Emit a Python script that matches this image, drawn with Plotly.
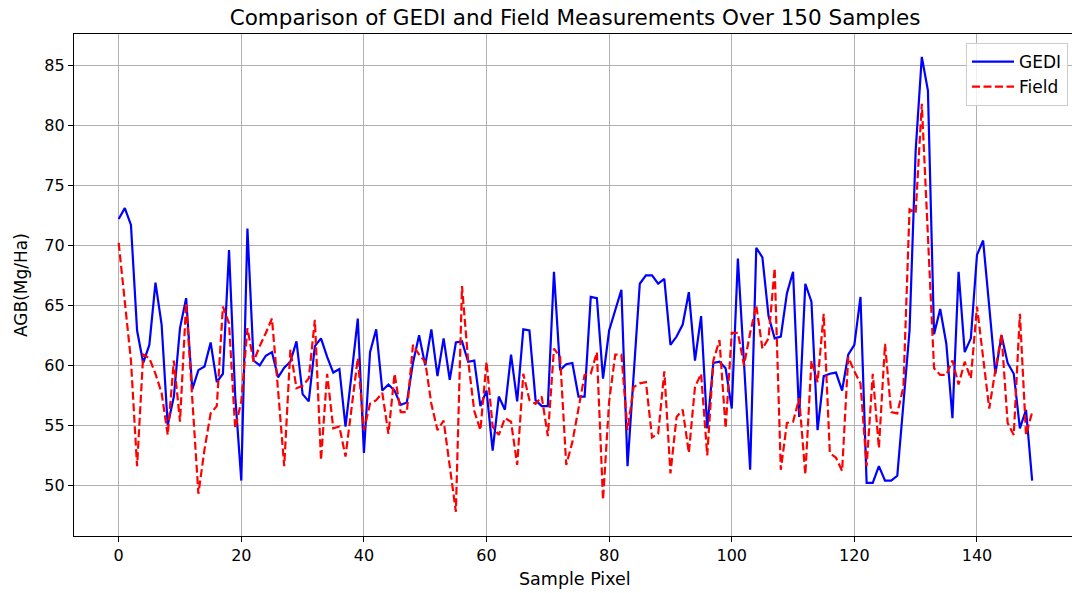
import plotly.graph_objects as go

samples = list(range(150))

gedi = [72.2, 73.1, 71.7, 62.9, 60.2, 61.7, 66.9, 63.4, 55.0, 57.4,
        63.1, 65.6, 58.0, 59.6, 59.9, 61.9, 58.6, 59.3, 69.6, 57.5,
        50.4, 71.4, 60.4, 60.0, 60.8, 61.1, 59.0, 59.8, 60.3, 62.0,
        57.6, 57.0, 61.6, 62.25, 60.7, 59.4, 59.7, 54.9, 59.3, 63.9,
        52.7, 61.1, 63.0, 57.9, 58.4, 57.9, 56.7, 56.9, 60.2, 62.5,
        60.0, 63.0, 59.1, 62.25, 58.8, 61.9, 62.0, 60.3, 60.4, 56.6,
        57.9, 52.9, 57.4, 56.3, 60.9, 57.0, 63.0, 62.9, 57.1, 56.6,
        56.6, 67.8, 59.6, 60.1, 60.2, 57.4, 57.4, 65.7, 65.6, 58.9,
        62.9, 64.6, 66.3, 51.6, 59.3, 66.8, 67.5, 67.5, 66.8, 67.2,
        61.7, 62.4, 63.4, 66.1, 60.4, 64.1, 54.75, 60.2, 60.3, 59.75,
        56.4, 68.9, 60.2, 51.3, 69.8, 69.0, 64.1, 62.25, 62.4, 66.0,
        67.8, 55.7, 66.8, 65.3, 54.6, 59.1, 59.3, 59.4, 57.9, 60.9,
        61.7, 65.7, 50.2, 50.2, 51.6, 50.4, 50.4, 50.8, 56.8, 62.9,
        77.9, 85.7, 82.9, 62.6, 64.7, 61.8, 55.6, 67.8, 61.1, 62.25,
        69.2, 70.4, 64.9, 59.3, 62.5, 60.2, 59.3, 54.75, 56.3, 50.4]

field = [70.2, 65.2, 60.4, 51.6, 60.9, 60.6, 59.3, 57.7, 54.2, 60.4,
         55.3, 65.2, 56.8, 49.3, 53.0, 56.0, 56.6, 64.9, 63.5, 54.75,
         57.0, 63.1, 60.3, 61.6, 62.7, 63.9, 57.9, 51.6, 61.3, 58.1,
         58.3, 58.9, 63.8, 52.1, 59.3, 54.75, 54.9, 52.4, 56.5, 60.6,
         54.6, 56.8, 57.1, 57.7, 54.3, 59.3, 56.1, 56.1, 61.7, 60.9,
         60.3, 56.8, 54.6, 55.4, 51.6, 47.8, 66.6, 60.4, 56.2, 54.6,
         60.3, 54.9, 54.2, 55.6, 55.3, 51.7, 59.3, 57.1, 56.8, 57.4,
         54.1, 61.4, 60.7, 51.7, 53.6, 56.3, 59.2, 59.3, 61.1, 48.8,
         57.0, 60.9, 60.9, 54.6, 58.2, 58.5, 58.6, 54.0, 54.3, 59.5,
         51.0, 55.7, 56.3, 52.7, 58.2, 59.3, 52.5, 60.4, 62.1, 54.75,
         62.7, 62.7, 60.0, 62.7, 65.0, 61.4, 62.25, 68.1, 51.3, 55.2,
         55.3, 57.25, 50.9, 60.4, 58.6, 64.3, 52.7, 52.3, 51.2, 60.7,
         59.5, 58.5, 51.6, 59.3, 53.1, 61.8, 56.1, 56.0, 58.2, 73.0,
         72.7, 81.8, 71.0, 59.75, 59.2, 59.2, 60.4, 58.4, 60.3, 58.9,
         64.9, 60.7, 56.4, 59.6, 62.6, 55.2, 54.2, 64.3, 54.2, 56.1]

x_ticks = [0, 20, 40, 60, 80, 100, 120, 140]
y_ticks = [50, 55, 60, 65, 70, 75, 80, 85]

W, H = 1072, 593
L, R, T, B = 74, 0, 34, 57
PW, PH = W - L - R, H - T - B
FONT = "DejaVu Sans"

fig = go.Figure()
fig.add_trace(go.Scatter(x=samples, y=gedi, mode="lines", name="GEDI",
                         line=dict(color="#0000ff", width=2.2)))
fig.add_trace(go.Scatter(x=samples, y=field, mode="lines", name="Field",
                         line=dict(color="#ff0000", width=2.2, dash="8px,3.5px")))

axis_common = dict(showgrid=True, gridcolor="#b0b0b0", gridwidth=1.1,
                   zeroline=False, showline=True, linecolor="black", linewidth=1.2,
                   ticks="outside", ticklen=5, tickwidth=1.1, tickcolor="black",
                   tickfont=dict(family=FONT, size=16, color="black"))

fig.update_layout(
    width=W, height=H,
    margin=dict(l=L, r=R, t=T, b=B, pad=0),
    paper_bgcolor="white", plot_bgcolor="white",
    font=dict(family=FONT, color="black"),
    title=dict(text="Comparison of GEDI and Field Measurements Over 150 Samples",
               x=(575 - L) / PW, xanchor="center", xref="paper",
               y=1 - 17 / H, yanchor="middle", yref="container",
               font=dict(family=FONT, size=21.5, color="black")),
    xaxis=dict(range=[-7.29, 155.5], tickvals=x_ticks, mirror=True, **axis_common),
    yaxis=dict(range=[45.78, 87.61], tickvals=y_ticks, mirror=False, **axis_common),
    legend=dict(x=(1068 - L) / PW, xanchor="right",
                y=1 - (43 - T) / PH, yanchor="top",
                itemwidth=42,
                bgcolor="rgba(255,255,255,0.8)", bordercolor="#cccccc", borderwidth=1,
                font=dict(family=FONT, size=17, color="black")),
    showlegend=True,
    annotations=[
        dict(text="Sample Pixel", xref="paper", yref="paper",
             x=(575 - L) / PW, y=-(579 - (H - B)) / PH,
             xanchor="center", yanchor="middle", showarrow=False,
             font=dict(family=FONT, size=17.5, color="black")),
        dict(text="AGB(Mg/Ha)", xref="paper", yref="paper",
             x=-(L - 21) / PW, y=0.5, textangle=-90,
             xanchor="center", yanchor="middle", showarrow=False,
             font=dict(family=FONT, size=17, color="black")),
    ],
)

fig.write_html("out.html")
